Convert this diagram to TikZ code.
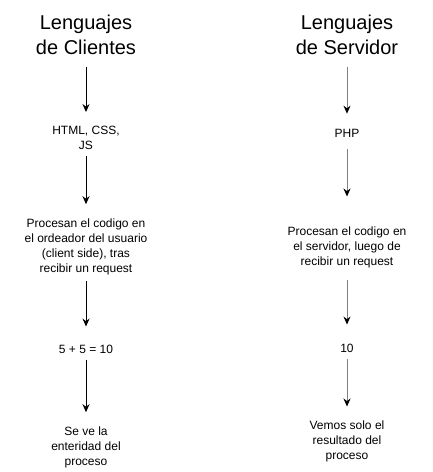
\documentclass[tikz,border=0pt]{standalone}
\usepackage{fontspec}
\setmainfont{Liberation Sans}
\usetikzlibrary{positioning}
\usetikzlibrary{arrows.meta}

\begin{document}
\begin{tikzpicture}[x=1pt,y=-1pt]
	\tikzstyle{head} = [align=center, inner sep=0pt, font=\fontsize{20}{25}\selectfont]
	\tikzstyle{txt} = [align=center, inner sep=0pt, font=\fontsize{12}{15}\selectfont]
	\tikzstyle{line} = [draw, line width=1pt, -{Stealth[length=8pt,width=7pt]}, shorten <=6.5pt, shorten >=14pt]
	\tikzstyle{gline} = [line, draw=black!50, -{Stealth[length=8pt,width=7pt,color=black]}]

	\useasboundingbox (0,0) rectangle (432,472);

	\node [head] (c0) at (86,34.5) {Lenguajes\\de Clientes};
	\node [txt] (c1) at (86,138) {HTML, CSS,\\JS};
	\node [txt] (c2) at (86,246.5) {Procesan el codigo en\\el ordeador del usuario\\(client side), tras\\recibir un request};
	\node [txt] (c3) at (86,349) {5 + 5 = 10};
	\node [txt] (c4) at (86,447) {Se ve la\\enteridad del\\proceso};

	\node [head] (s0) at (347,34.5) {Lenguajes\\de Servidor};
	\node [txt] (s1) at (347,133) {PHP};
	\node [txt] (s2) at (347,247.3) {Procesan el codigo en\\el servidor, luego de\\recibir un request};
	\node [txt] (s3) at (347,348) {10};
	\node [txt] (s4) at (347,441.3) {Vemos solo el\\resultado del\\proceso};

	\path [line, shorten <=12pt] (c0) -- (c1);
	\path [line] (c1) -- (c2);
	\path [line, shorten >=18pt] (c2) -- (c3);
	\path [line] (c3) -- (c4);
	\path [gline, shorten <=12pt, shorten >=15pt] (s0) -- (s1);
	\path [gline, shorten <=12pt, shorten >=30pt] (s1) -- (s2);
	\path [gline, shorten <=12pt, shorten >=19pt] (s2) -- (s3);
	\path [gline] (s3) -- (s4);
\end{tikzpicture}
\end{document}
